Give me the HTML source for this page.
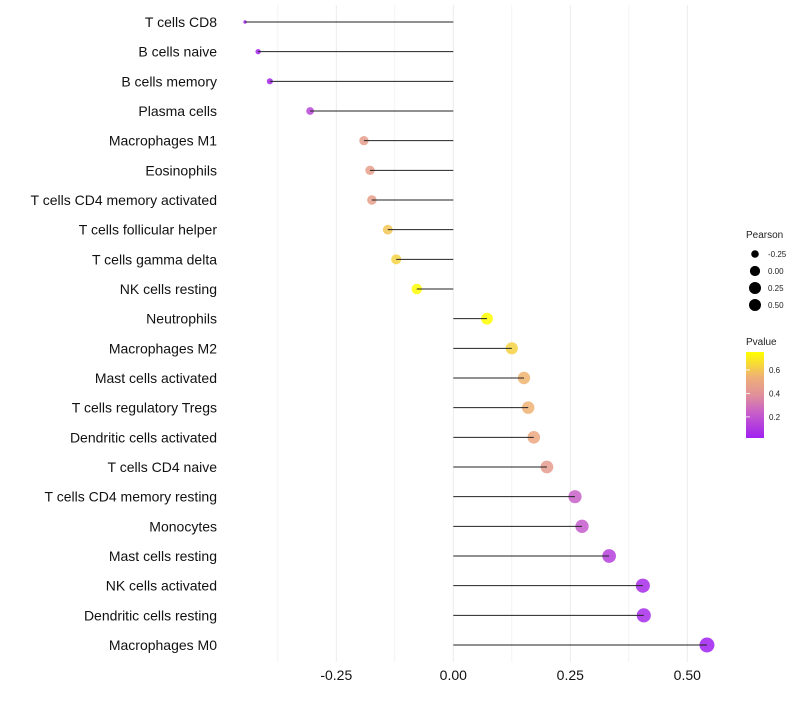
<!DOCTYPE html>
<html><head><meta charset="utf-8"><style>
body{margin:0;background:#fff;font-family:"Liberation Sans",Arial,sans-serif}
</style></head><body>
<svg id="chart" width="800" height="700" xmlns="http://www.w3.org/2000/svg">
<defs><linearGradient id="pg" x1="0" y1="1" x2="0" y2="0">
<stop offset="0" stop-color="#a020f0"/><stop offset="0.3" stop-color="#c860c8"/><stop offset="0.5" stop-color="#e0909a"/><stop offset="0.7" stop-color="#eeae78"/><stop offset="1" stop-color="#ffff00"/></linearGradient></defs>
<g id="grid"></g>
<g id="marks"></g>
<g id="labels"></g>
<g id="xt"></g>
<g>
<text x="746" y="238" font-size="10" fill="#222">Pearson</text>
<g id="sizeleg"></g>
</g>
<g>
<text x="746" y="345" font-size="10" fill="#222">Pvalue</text>
<rect x="746" y="352" width="18" height="86" fill="url(#pg)"/>
<g id="colleg"></g>
</g>
</svg>
<script>
const cells=["T cells CD8","B cells naive","B cells memory","Plasma cells","Macrophages M1","Eosinophils","T cells CD4 memory activated","T cells follicular helper","T cells gamma delta","NK cells resting","Neutrophils","Macrophages M2","Mast cells activated","T cells regulatory  Tregs ","Dendritic cells activated","T cells CD4 naive","T cells CD4 memory resting","Monocytes","Mast cells resting","NK cells activated","Dendritic cells resting","Macrophages M0"];
const pearson=[-0.445,-0.417,-0.392,-0.306,-0.191,-0.178,-0.174,-0.140,-0.122,-0.078,0.072,0.125,0.151,0.160,0.172,0.200,0.260,0.275,0.333,0.405,0.407,0.542];
const pvalue=[0.02,0.03,0.04,0.15,0.45,0.46,0.46,0.60,0.63,0.75,0.76,0.63,0.55,0.54,0.50,0.44,0.24,0.22,0.13,0.06,0.06,0.01];
const xTicks=[-0.25,0,0.25,0.5];
const xTickLabels=["-0.25","0.00","0.25","0.50"];
const sizeLegend=[-0.25,0,0.25,0.5];
const sizeLegendLabels=["-0.25","0.00","0.25","0.50"];
const colLegend=[0.2,0.4,0.6];
const colLegendLabels=["0.2","0.4","0.6"];
const NS="http://www.w3.org/2000/svg";
const X=v=>453.3+v*468;
const Y=i=>22+i*(623/21);
const R=v=>1.7+5.8*Math.sqrt(Math.max(0,(v+0.445)/0.99));
const stops=[[0,[160,32,240]],[0.3,[200,96,200]],[0.5,[224,144,154]],[0.7,[238,174,120]],[1,[255,255,0]]];
function col(p){let t=Math.max(0,Math.min(1,(p-0.02)/0.733));for(let k=1;k<stops.length;k++){if(t<=stops[k][0]){const a=stops[k-1],b=stops[k],f=(t-a[0])/(b[0]-a[0]);return "rgb("+a[1].map((c,j)=>Math.round(c+(b[1][j]-c)*f)).join(",")+")";}}return "rgb(255,255,0)";}
function mk(tag,at,parent){const e=document.createElementNS(NS,tag);for(const k in at)e.setAttribute(k,at[k]);document.getElementById(parent).appendChild(e);return e;}
for(let v=-0.375;v<=0.6;v+=0.125){const g=mk("line",{x1:X(v),x2:X(v),y1:5,y2:662,stroke:(Math.abs(v*4-Math.round(v*4))<1e-6)?"#ebebeb":"#f3f3f3","stroke-width":1},"grid");

}
xTicks.forEach((v,i)=>{const t=mk("text",{x:X(v),y:680,"font-size":14,"text-anchor":"middle",fill:"#111"},"xt");t.textContent=xTickLabels[i];

});
cells.forEach((c,i)=>{
const d=mk("circle",{cx:X(pearson[i]),cy:Y(i),r:R(pearson[i]),fill:col(pvalue[i]),"fill-opacity":0.85},"marks");


const l=mk("line",{x1:X(0),x2:X(pearson[i]),y1:Y(i),y2:Y(i),stroke:"#222","stroke-width":1},"marks");


const t=mk("text",{x:217,y:Y(i)+5,"font-size":14,"text-anchor":"end",fill:"#111"},"labels");t.textContent=c;

});
sizeLegend.forEach((v,i)=>{const y=254+i*17;
const c=mk("circle",{cx:755,cy:y,r:Math.min(R(v),6.5)-0.5,fill:"#000"},"sizeleg");


const t=mk("text",{x:768,y:y+3,"font-size":8,fill:"#222"},"sizeleg");t.textContent=sizeLegendLabels[i];

});
colLegend.forEach((v,i)=>{const y=438-(v-0.02)/0.733*86;
const l=mk("line",{x1:746,x2:750,y1:y,y2:y,stroke:"#fff","stroke-width":0.8},"colleg");


const t=mk("text",{x:769,y:y+3,"font-size":8,fill:"#222"},"colleg");t.textContent=colLegendLabels[i];

});
</script>
</body></html>
